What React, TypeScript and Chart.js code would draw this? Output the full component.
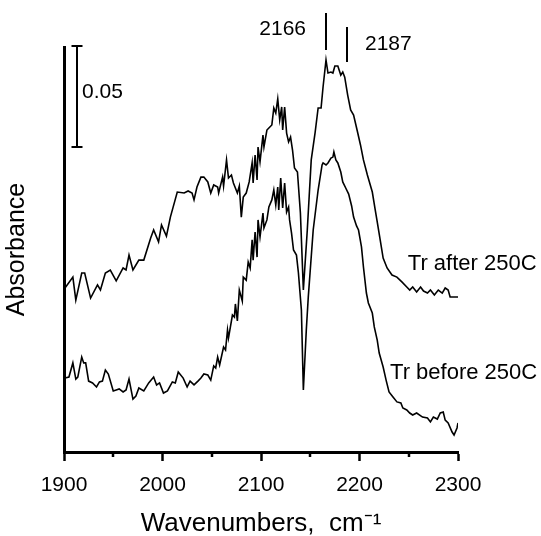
import React, { useEffect, useRef } from 'react';
import { Chart, registerables } from 'chart.js';

Chart.register(...registerables);

// ---- data (wavenumber, absorbance) ----
const afterWavenumbers = [1901,1909,1912,1918,1921,1927,1934,1937,1942,1947,1953,1960,1963,1966,1970,1976,1981,1988,1991,1996,1999,2004,2008,2015,2022,2026,2030,2032,2035,2039,2042,2046,2049,2052,2056,2057,2061,2062,2065,2067,2070,2072,2076,2078,2080,2082,2085,2088,2091,2092,2094,2096,2097,2099,2102,2103,2106,2108,2111,2113,2115,2117,2119,2121,2122,2124,2126,2128,2130,2132,2134,2137,2140,2143,2147,2151,2155,2158,2161,2163,2166,2168,2171,2173,2175,2178,2181,2183,2185,2188,2191,2194,2198,2201,2204,2208,2213,2216,2218,2221,2224,2228,2233,2238,2243,2248,2251,2254,2258,2262,2265,2269,2272,2276,2280,2284,2287,2290,2292,2300];
const afterAbsorbance = [0.0812,0.0866,0.0752,0.0886,0.0886,0.0762,0.0827,0.0802,0.0886,0.0901,0.0847,0.0911,0.0901,0.0975,0.0901,0.0950,0.0950,0.1059,0.1099,0.1040,0.1124,0.1069,0.1163,0.1287,0.1282,0.1292,0.1282,0.1248,0.1312,0.1361,0.1361,0.1337,0.1282,0.1322,0.1312,0.1282,0.1361,0.1317,0.1446,0.1356,0.1371,0.1332,0.1282,0.1317,0.1163,0.1262,0.1282,0.1337,0.1431,0.1332,0.1470,0.1347,0.1510,0.1436,0.1569,0.1510,0.1594,0.1604,0.1619,0.1703,0.1678,0.1748,0.1644,0.1708,0.1594,0.1708,0.1579,0.1535,0.1559,0.1495,0.1406,0.1386,0.1183,0.0802,0.1099,0.1446,0.1584,0.1703,0.1703,0.1807,0.1941,0.1876,0.1881,0.1876,0.1911,0.1911,0.1866,0.1881,0.1856,0.1767,0.1693,0.1668,0.1584,0.1520,0.1446,0.1371,0.1287,0.1198,0.1139,0.1050,0.0960,0.0911,0.0876,0.0866,0.0842,0.0817,0.0802,0.0817,0.0792,0.0817,0.0797,0.0787,0.0802,0.0777,0.0802,0.0787,0.0812,0.0802,0.0767,0.0767];

const beforeWavenumbers = [1901,1905,1909,1912,1914,1918,1920,1922,1925,1929,1933,1936,1939,1942,1945,1950,1953,1956,1960,1963,1966,1970,1973,1976,1981,1986,1991,1994,1997,2001,2005,2010,2013,2016,2021,2025,2028,2032,2036,2039,2042,2046,2049,2052,2054,2056,2058,2062,2064,2066,2067,2071,2073,2074,2076,2078,2081,2082,2085,2087,2089,2091,2092,2094,2096,2097,2099,2102,2103,2106,2108,2111,2113,2115,2117,2118,2120,2122,2124,2126,2128,2129,2131,2133,2136,2138,2141,2143,2146,2148,2153,2158,2162,2163,2166,2168,2171,2173,2174,2176,2178,2181,2183,2186,2189,2192,2194,2197,2199,2202,2204,2207,2209,2213,2215,2218,2220,2224,2227,2230,2234,2238,2242,2244,2248,2251,2254,2258,2264,2269,2272,2275,2279,2282,2285,2287,2290,2294,2296,2299,2300];
const beforeAbsorbance = [0.0366,0.0371,0.0441,0.0361,0.0371,0.0470,0.0441,0.0441,0.0351,0.0342,0.0322,0.0347,0.0351,0.0406,0.0386,0.0302,0.0307,0.0312,0.0297,0.0307,0.0361,0.0262,0.0277,0.0317,0.0302,0.0342,0.0371,0.0332,0.0342,0.0292,0.0302,0.0347,0.0342,0.0396,0.0366,0.0322,0.0351,0.0332,0.0351,0.0366,0.0386,0.0381,0.0356,0.0426,0.0416,0.0470,0.0431,0.0520,0.0505,0.0604,0.0564,0.0678,0.0668,0.0733,0.0649,0.0802,0.0748,0.0866,0.0851,0.0941,0.0911,0.1050,0.0950,0.1089,0.0965,0.1149,0.1064,0.1183,0.1109,0.1149,0.1213,0.1248,0.1297,0.1223,0.1312,0.1198,0.1356,0.1208,0.1332,0.1188,0.1213,0.1149,0.1084,0.1000,0.0975,0.0886,0.0703,0.0307,0.0604,0.0767,0.1099,0.1297,0.1421,0.1431,0.1421,0.1431,0.1455,0.1460,0.1485,0.1446,0.1431,0.1386,0.1337,0.1307,0.1277,0.1218,0.1163,0.1119,0.1099,0.1015,0.0916,0.0787,0.0738,0.0688,0.0619,0.0554,0.0490,0.0421,0.0356,0.0297,0.0272,0.0248,0.0243,0.0218,0.0208,0.0193,0.0183,0.0193,0.0173,0.0168,0.0149,0.0173,0.0163,0.0193,0.0198,0.0158,0.0144,0.0099,0.0084,0.0119,0.0144];

const xMin = 1900;
const xMax = 2300;
const xTickStep = 100;
const xMinorTicks = [1950, 2050, 2150, 2250];
const yMin = 0;
const yMax = 0.2005;

const seriesLabels = ['Tr after 250C', 'Tr before 250C'];
const seriesLabelX = [2249, 2231];
const seriesLabelY = [0.0931, 0.0389];

const peakPositions = [2166, 2187];
const peakLabels = ['2166', '2187'];
const peakMarkerTop = [0.2173, 0.2104];
const peakMarkerBottom = [0.1990, 0.1931];

const scaleBarPosition = 1913;
const scaleBarBase = 0.151;
const scaleBarValue = 0.05;

const FAMILY = '"Liberation Sans", Arial, Helvetica, sans-serif';
const font = (s: number) => `${s}px ${FAMILY}`;

const overlayPlugin = {
  id: 'overlay',
  afterDraw(chart: any) {
    const { ctx, chartArea } = chart;
    const xs = chart.scales.x;
    const ys = chart.scales.y;
    ctx.save();
    ctx.strokeStyle = '#000';
    ctx.fillStyle = '#000';

    // minor ticks
    ctx.lineWidth = 2.5;
    for (const v of xMinorTicks) {
      const px = Math.round(xs.getPixelForValue(v));
      ctx.beginPath();
      ctx.moveTo(px, chartArea.bottom);
      ctx.lineTo(px, chartArea.bottom + 5);
      ctx.stroke();
    }

    // scale bar
    const bx = Math.round(xs.getPixelForValue(scaleBarPosition));
    const b0 = ys.getPixelForValue(scaleBarBase);
    const b1 = ys.getPixelForValue(scaleBarBase + scaleBarValue);
    ctx.lineWidth = 2;
    ctx.beginPath();
    ctx.moveTo(bx, b0); ctx.lineTo(bx, b1);
    ctx.moveTo(bx - 5.5, b0); ctx.lineTo(bx + 5.5, b0);
    ctx.moveTo(bx - 5.5, b1); ctx.lineTo(bx + 5.5, b1);
    ctx.stroke();
    ctx.font = font(21);
    ctx.textBaseline = 'middle';
    ctx.textAlign = 'left';
    ctx.fillText(String(scaleBarValue), bx + 5, (b0 + b1) / 2 - 4);

    // peak markers
    peakPositions.forEach((p, i) => {
      const px = Math.round(xs.getPixelForValue(p));
      const t = ys.getPixelForValue(peakMarkerTop[i]);
      const b = ys.getPixelForValue(peakMarkerBottom[i]);
      ctx.lineWidth = 2;
      ctx.beginPath();
      ctx.moveTo(px, t); ctx.lineTo(px, b);
      ctx.stroke();
      ctx.font = font(21);
      if (i === 0) {
        ctx.textAlign = 'right';
        ctx.fillText(peakLabels[i], px - 20, (t + b) / 2 - 2);
      } else {
        ctx.textAlign = 'left';
        ctx.fillText(peakLabels[i], px + 18, (t + b) / 2);
      }
    });

    // series labels
    ctx.font = font(22);
    ctx.textAlign = 'left';
    seriesLabels.forEach((s, i) => {
      ctx.fillText(s, xs.getPixelForValue(seriesLabelX[i]), ys.getPixelForValue(seriesLabelY[i]));
    });
    ctx.restore();
  },
};

export default function App() {
  const ref = useRef<HTMLCanvasElement | null>(null);
  useEffect(() => {
    if (!ref.current) return;
    const toPoints = (xs: number[], ys: number[]) => xs.map((x, i) => ({ x, y: ys[i] }));
    const chart = new Chart(ref.current, {
      type: 'line',
      data: {
        datasets: [
          {
            label: seriesLabels[0],
            data: toPoints(afterWavenumbers, afterAbsorbance),
            borderColor: '#000',
            borderWidth: 1.6,
            pointRadius: 0,
            tension: 0,
            fill: false,
          },
          {
            label: seriesLabels[1],
            data: toPoints(beforeWavenumbers, beforeAbsorbance),
            borderColor: '#000',
            borderWidth: 1.6,
            pointRadius: 0,
            tension: 0,
            fill: false,
          },
        ],
      },
      options: {
        animation: false,
        responsive: false,
        devicePixelRatio: 1,
        layout: { padding: { left: 0, right: 83, top: 47, bottom: 0 } },
        plugins: { legend: { display: false }, tooltip: { enabled: false } },
        scales: {
          x: {
            type: 'linear',
            min: xMin,
            max: xMax,
            grid: {
              display: true,
              drawOnChartArea: false,
              drawTicks: true,
              tickLength: 9,
              tickWidth: 2.5,
              tickColor: '#000',
              color: '#000',
            },
            border: { display: true, width: 3, color: '#000' },
            ticks: {
              stepSize: xTickStep,
              color: '#000',
              padding: 12,
              font: { size: 21, family: FAMILY },
              callback: (v: any) => String(v),
            },
            title: {
              display: true,
              text: 'Wavenumbers,  cm\u207B\u00B9',
              color: '#000',
              font: { size: 26, family: FAMILY, lineHeight: 1 },
              padding: { top: 0.8, bottom: -1 },
            },
          },
          y: {
            type: 'linear',
            min: yMin,
            max: yMax,
            grid: { display: false, drawTicks: false },
            border: { display: true, width: 3, color: '#000' },
            ticks: { display: false },
            title: {
              display: true,
              text: 'Absorbance',
              color: '#000',
              font: { size: 25, family: FAMILY, lineHeight: 1.2 },
              padding: { top: 2, bottom: 32 },
            },
          },
        },
      },
      plugins: [overlayPlugin],
    } as any);
    return () => chart.destroy();
  }, []);
  return (
    <div style={{ position: 'absolute', left: 0, top: 0, width: 541, height: 536, background: '#fff' }}>
      <canvas ref={ref} width={541} height={536} style={{ width: 541, height: 536, display: 'block' }} />
    </div>
  );
}
